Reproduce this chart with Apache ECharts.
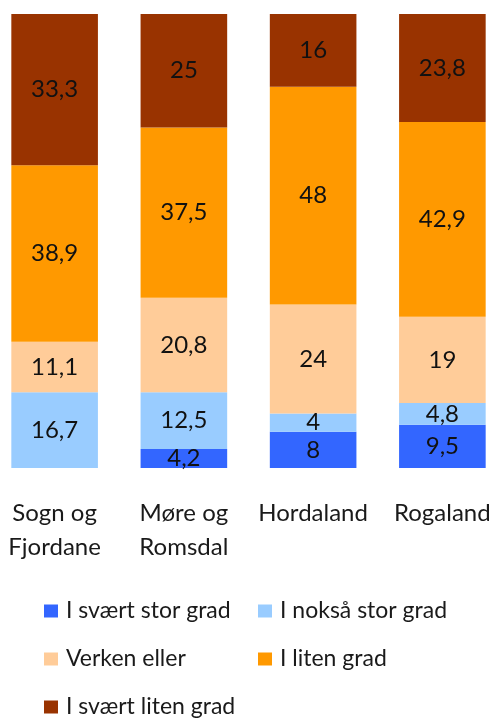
<!DOCTYPE html>
<html>
<head>
<meta charset="utf-8">
<script src="https://cdn.jsdelivr.net/npm/echarts@6/dist/echarts.min.js"></script>
<style>
  html, body { margin: 0; padding: 0; background: #fff; }
  #chart { width: 493px; height: 720px; }
</style>
</head>
<body>
<div id="chart"></div>
<script>
// ---------- data ----------
const regions = ['Sogn og\nFjordane', 'Møre og\nRomsdal', 'Hordaland', 'Rogaland'];
const seriesNames = ['I svært stor grad', 'I nokså stor grad', 'Verken eller', 'I liten grad', 'I svært liten grad'];
const svaertStor = [null, 4.2, 8, 9.5];
const noksaStor = [16.7, 12.5, 4, 4.8];
const verkenEller = [11.1, 20.8, 24, 19];
const litenGrad = [38.9, 37.5, 48, 42.9];
const svaertLiten = [33.3, 25, 16, 23.8];
const colors = ['#3366ff', '#99ccff', '#ffcc99', '#ff9900', '#993300'];

const FONT = 'Lato, "Open Sans", sans-serif';
const values = [svaertStor, noksaStor, verkenEller, litenGrad, svaertLiten];

const chart = echarts.init(document.getElementById('chart'), null, { renderer: 'canvas' });

// legends laid out as a two-column grid (one legend per row)
const legendRow = (names, top) => ({
  left: 44,
  top: top,
  padding: 0,
  orient: 'horizontal',
  data: names,
  icon: 'rect',
  itemWidth: 14,
  itemHeight: 13,
  itemGap: 14,
  selectedMode: false,
  textStyle: {
    fontFamily: FONT, fontSize: 23, lineHeight: 26, color: '#1a1a1a',
    width: 178, overflow: 'truncate', padding: [0, 0, 0, 3]
  }
});

const option = {
  backgroundColor: '#fff',
  animation: false,
  color: colors,
  grid: { left: -10, right: -14, top: 14, bottom: 252, outerBoundsMode: 'none', containLabel: false },
  legend: [
    legendRow([seriesNames[0], seriesNames[1]], 598),
    legendRow([seriesNames[2], seriesNames[3]], 646),
    legendRow([seriesNames[4]], 694)
  ],
  xAxis: {
    type: 'category',
    data: regions,
    axisLine: { show: false },
    axisTick: { show: false },
    axisLabel: {
      fontFamily: FONT, fontSize: 24, color: '#1a1a1a', lineHeight: 34, margin: 28, interval: 0
    }
  },
  yAxis: { type: 'value', min: 0, max: 100, show: false },
  series: seriesNames.map((name, i) => ({
    name: name,
    type: 'bar',
    stack: 'total',
    barWidth: '67%',
    data: values[i],
    itemStyle: { color: colors[i] },
    label: {
      show: true,
      position: 'inside',
      fontFamily: FONT,
      fontSize: 24,
      color: '#111',
      formatter: p => (p.value == null ? '' : String(p.value).replace('.', ','))
    }
  }))
};

chart.setOption(option);
</script>
</body>
</html>
